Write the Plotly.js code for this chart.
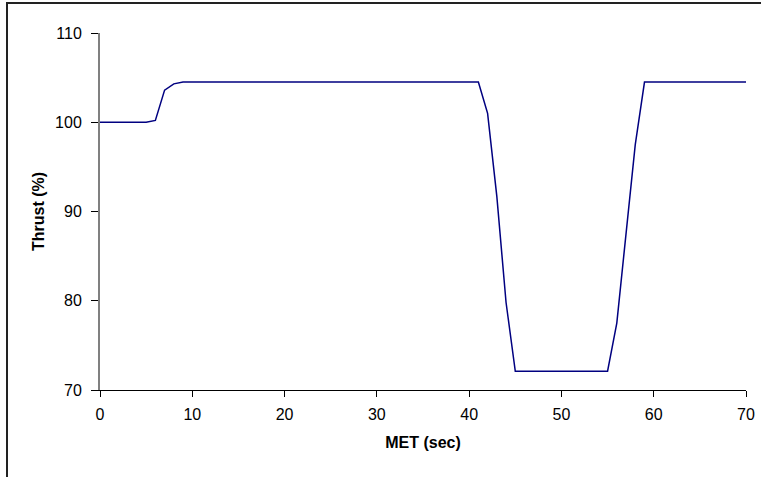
<!DOCTYPE html>
<html>
<head>
<meta charset="utf-8">
<script src="https://cdn.plot.ly/plotly-3.0.1.min.js"></script>
<style>
  html, body { margin: 0; padding: 0; background: #fff; }
  #frame { position: absolute; left: 6px; top: 2px; width: 760px; height: 480px;
           border-top: 2px solid #222; border-left: 2px solid #222; box-sizing: border-box; pointer-events: none; }
  #chart { position: absolute; left: 0; top: 0; width: 761px; height: 477px; }
</style>
</head>
<body>
<div id="chart"></div>
<div id="frame"></div>
<script>
// MET (sec) breakpoints and thrust (%) values
const metSec = [0, 5, 6, 7, 8, 9, 41, 42, 43, 44, 45, 55, 56, 57, 58, 59, 70];
const thrustPct = [100, 100, 100.2, 103.6, 104.3, 104.5, 104.5, 101, 91.7, 79.8, 72.1, 72.1, 77.5, 87.3, 97.5, 104.5, 104.5];
const xTicks = [0, 10, 20, 30, 40, 50, 60, 70];
const yTicks = [70, 80, 90, 100, 110];

const trace = {
  x: metSec, y: thrustPct, type: 'scatter', mode: 'lines',
  line: { color: '#000080', width: 1.5 }, hoverinfo: 'none'
};

const layout = {
  width: 761, height: 477,
  margin: { l: 100, r: 15, t: 33, b: 87 },
  paper_bgcolor: '#ffffff', plot_bgcolor: '#ffffff',
  font: { family: 'Liberation Sans, Arial, sans-serif', size: 16, color: '#000' },
  showlegend: false,
  xaxis: {
    range: [0, 70], tickvals: xTicks, ticktext: xTicks.map(String),
    showgrid: false, zeroline: false, showline: true, linecolor: '#000', linewidth: 1,
    ticks: 'outside', ticklen: 6, tickcolor: '#000', tickwidth: 1,
    ticklabelstandoff: 4,
    tickfont: { size: 16 },
    title: { text: '<b>MET (sec)</b>', font: { size: 16 }, standoff: 14 }
  },
  yaxis: {
    range: [70, 110], tickvals: yTicks, ticktext: yTicks.map(String),
    showgrid: false, zeroline: false, showline: true, linecolor: '#808080', linewidth: 2,
    ticks: 'outside', ticklen: 7, tickcolor: '#000', tickwidth: 1,
    ticklabelstandoff: 6,
    tickfont: { size: 16 },
    title: { text: '<b>Thrust (%)</b>', font: { size: 16 }, standoff: 6 }
  }
};

Plotly.newPlot('chart', [trace], layout, { staticPlot: true, displayModeBar: false });
</script>
</body>
</html>
